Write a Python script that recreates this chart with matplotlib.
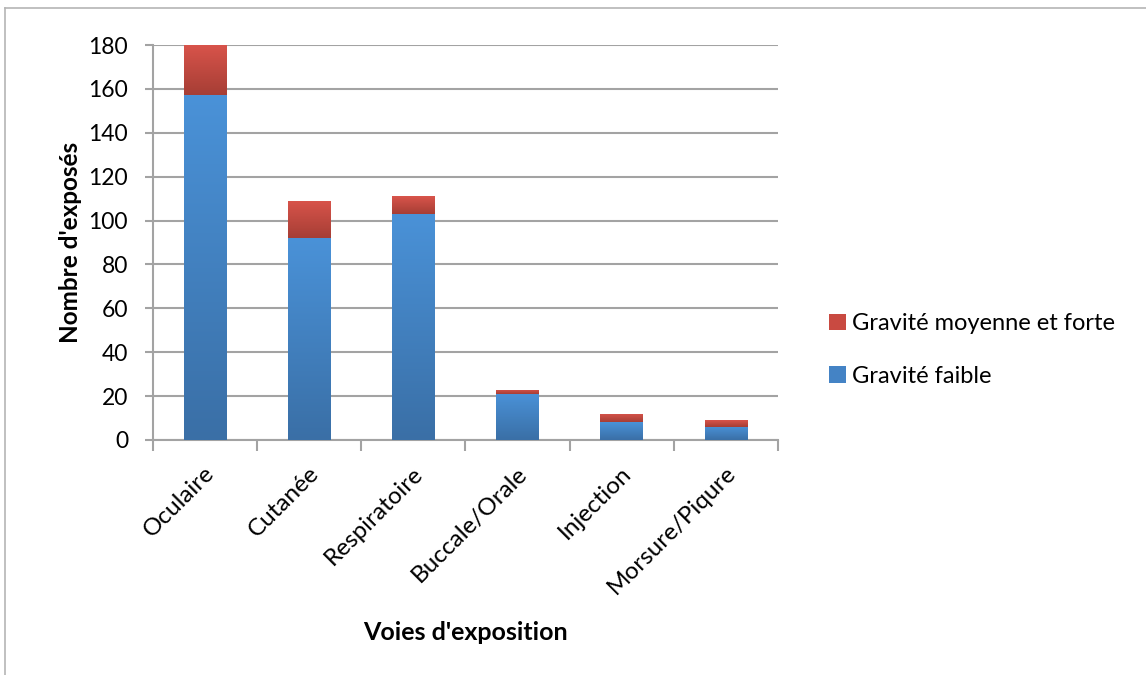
import numpy as np
import matplotlib
matplotlib.use("Agg")
import matplotlib.pyplot as plt
from matplotlib.colors import LinearSegmentedColormap
from matplotlib.patches import Patch
from matplotlib.lines import Line2D
import matplotlib.transforms as mtransforms

categories = ["Oculaire", "Cutanée", "Respiratoire", "Buccale/Orale", "Injection", "Morsure/Piqure"]
faible = [157, 92, 103, 21, 8, 6]
moyenne_forte = [23, 17, 8, 2, 4, 3]
series_names = ["Gravité faible", "Gravité moyenne et forte"]
yticks = [0, 20, 40, 60, 80, 100, 120, 140, 160, 180]

plt.rcParams["font.family"] = ["Lato", "DejaVu Sans"]

fig = plt.figure(figsize=(11.46, 6.75), dpi=100)
ax = fig.add_axes([153 / 1146, 1 - 440 / 675, (778 - 153) / 1146, (440 - 45) / 675])

# frame lines around the chart area
fig.add_artist(Line2D([5 / 1146, 5 / 1146], [0, 1 - 8 / 675], color="#b5b5b5", lw=1.2))
fig.add_artist(Line2D([5 / 1146, 1], [1 - 8 / 675, 1 - 8 / 675], color="#b5b5b5", lw=1.2))

blue_cmap = LinearSegmentedColormap.from_list("blue", ["#3a6fa6", "#4a92d8"])
red_cmap = LinearSegmentedColormap.from_list("red", ["#a63e35", "#d9544b"])

x = np.arange(len(categories))
width = 0.41

def gradient_bars(bars, cmap):
    grad = np.linspace(0, 1, 256).reshape(-1, 1)
    for b in bars:
        bx, by = b.get_x(), b.get_y()
        bw, bh = b.get_width(), b.get_height()
        b.set_facecolor("none")
        b.set_edgecolor("none")
        im = ax.imshow(grad, cmap=cmap, origin="lower", aspect="auto",
                       extent=[bx, bx + bw, by, by + bh], zorder=3,
                       interpolation="bilinear")
        im.set_clip_path(b)

b1 = ax.bar(x, faible, width, zorder=3)
b2 = ax.bar(x, moyenne_forte, width, bottom=faible, zorder=3)
gradient_bars(b1, blue_cmap)
gradient_bars(b2, red_cmap)

ax.set_xlim(-0.5, len(categories) - 0.5)
ax.set_ylim(0, 180)
ax.set_yticks(yticks)
ax.set_yticklabels([str(v) for v in yticks], fontsize=16.5)
ax.yaxis.grid(True, color="#a3a3a3", lw=1.5, zorder=0)
ax.set_axisbelow(True)

for s in ["top", "right"]:
    ax.spines[s].set_visible(False)
ax.spines["left"].set_color("#a3a3a3")
ax.spines["left"].set_linewidth(1.5)
ax.spines["bottom"].set_color("#a3a3a3")
ax.spines["bottom"].set_linewidth(1.5)
ax.tick_params(axis="y", length=6, width=1.5, color="#a3a3a3", pad=12)

# category boundary ticks
ax.set_xticks(np.arange(-0.5, len(categories) + 0.5, 1.0))
ax.set_xticklabels([])
ax.tick_params(axis="x", length=8, width=1.5, color="#a3a3a3", direction="out")

offset = mtransforms.ScaledTranslation(6 / 100, -30 / 100, fig.dpi_scale_trans)
for xi, name in zip(x, categories):
    ax.text(xi, 0, name, rotation=45, ha="right", va="center",
            rotation_mode="anchor", fontsize=17.5,
            transform=mtransforms.blended_transform_factory(ax.transData, ax.transAxes) + offset)

fig.text(70 / 1146, 1 - 242 / 675, "Nombre d'exposés", fontsize=17.5, fontweight="bold",
         rotation=90, ha="center", va="center")
fig.text(465 / 1146, 1 - 632 / 675, "Voies d'exposition", fontsize=18,
         fontweight="bold", ha="center", va="center")

handles = [Patch(facecolor="#c94a41", edgecolor="none"),
           Patch(facecolor="#4483c5", edgecolor="none")]
fig.legend(handles, [series_names[1], series_names[0]], loc="center left",
           bbox_to_anchor=(808 / 1146, 1 - 350 / 675), frameon=False,
           fontsize=17, handlelength=0.7, handleheight=0.7, handletextpad=0.25,
           labelspacing=1.35)

fig.savefig("out.png", dpi=100, facecolor="white")
